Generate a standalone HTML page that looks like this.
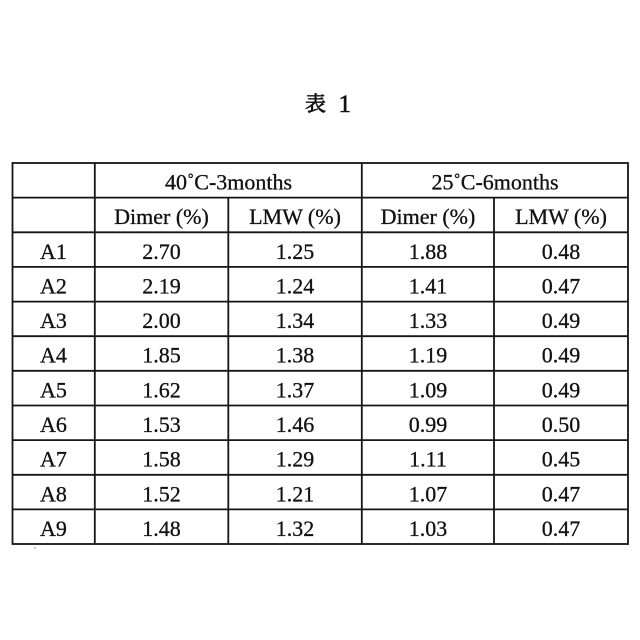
<!DOCTYPE html>
<html>
<head>
<meta charset="utf-8">
<style>
html,body{margin:0;padding:0;background:#fff;}
body{width:640px;height:640px;overflow:hidden;}
svg{display:block;}
text{font-family:"Liberation Serif","Noto Serif CJK SC",serif;font-size:22px;fill:#111;stroke:#111;stroke-width:0.3;}
.t{font-family:"Liberation Serif","Noto Serif CJK JP","Noto Sans CJK JP",serif;font-size:21px;stroke-width:0.7;}
.n{font-size:25px;stroke-width:0.6;}
</style>
</head>
<body>
<svg width="640" height="640" viewBox="0 0 640 640" xmlns="http://www.w3.org/2000/svg">
<rect width="640" height="640" fill="#fff"/>
<text class="t" x="305" y="111">表</text>
<text class="n" x="338.5" y="112">1</text>

<g stroke="#151515" stroke-width="1.8" fill="none">
  <rect x="12.5" y="163" width="615.5" height="381"/>
  <line x1="12" y1="197.6" x2="628" y2="197.6"/>
  <line x1="12" y1="232.3" x2="628" y2="232.3"/>
  <line x1="12" y1="266.9" x2="628" y2="266.9"/>
  <line x1="12" y1="301.6" x2="628" y2="301.6"/>
  <line x1="12" y1="336.2" x2="628" y2="336.2"/>
  <line x1="12" y1="370.8" x2="628" y2="370.8"/>
  <line x1="12" y1="405.5" x2="628" y2="405.5"/>
  <line x1="12" y1="440.1" x2="628" y2="440.1"/>
  <line x1="12" y1="474.8" x2="628" y2="474.8"/>
  <line x1="12" y1="509.4" x2="628" y2="509.4"/>
  <line x1="94.8" y1="163" x2="94.8" y2="544"/>
  <line x1="361.8" y1="163" x2="361.8" y2="544"/>
  <line x1="228.3" y1="197.6" x2="228.3" y2="544"/>
  <line x1="494" y1="197.6" x2="494" y2="544"/>
</g>

<g text-anchor="middle">
  <text x="228.5" y="189.5">40˚C-3months</text>
  <text x="495" y="189.5">25˚C-6months</text>

  <text x="161.5" y="224">Dimer (%)</text>
  <text x="295" y="224">LMW (%)</text>
  <text x="428" y="224">Dimer (%)</text>
  <text x="561" y="224">LMW (%)</text>

  <text x="53.5" y="258.8">A1</text><text x="161.5" y="258.8">2.70</text><text x="295" y="258.8">1.25</text><text x="428" y="258.8">1.88</text><text x="561" y="258.8">0.48</text>
  <text x="53.5" y="293.4">A2</text><text x="161.5" y="293.4">2.19</text><text x="295" y="293.4">1.24</text><text x="428" y="293.4">1.41</text><text x="561" y="293.4">0.47</text>
  <text x="53.5" y="328.1">A3</text><text x="161.5" y="328.1">2.00</text><text x="295" y="328.1">1.34</text><text x="428" y="328.1">1.33</text><text x="561" y="328.1">0.49</text>
  <text x="53.5" y="362.7">A4</text><text x="161.5" y="362.7">1.85</text><text x="295" y="362.7">1.38</text><text x="428" y="362.7">1.19</text><text x="561" y="362.7">0.49</text>
  <text x="53.5" y="397.3">A5</text><text x="161.5" y="397.3">1.62</text><text x="295" y="397.3">1.37</text><text x="428" y="397.3">1.09</text><text x="561" y="397.3">0.49</text>
  <text x="53.5" y="432">A6</text><text x="161.5" y="432">1.53</text><text x="295" y="432">1.46</text><text x="428" y="432">0.99</text><text x="561" y="432">0.50</text>
  <text x="53.5" y="466.6">A7</text><text x="161.5" y="466.6">1.58</text><text x="295" y="466.6">1.29</text><text x="428" y="466.6">1.11</text><text x="561" y="466.6">0.45</text>
  <text x="53.5" y="501.3">A8</text><text x="161.5" y="501.3">1.52</text><text x="295" y="501.3">1.21</text><text x="428" y="501.3">1.07</text><text x="561" y="501.3">0.47</text>
  <text x="53.5" y="535.9">A9</text><text x="161.5" y="535.9">1.48</text><text x="295" y="535.9">1.32</text><text x="428" y="535.9">1.03</text><text x="561" y="535.9">0.47</text>
</g>
<circle cx="35" cy="548" r="0.8" fill="#888"/>
</svg>
</body>
</html>
